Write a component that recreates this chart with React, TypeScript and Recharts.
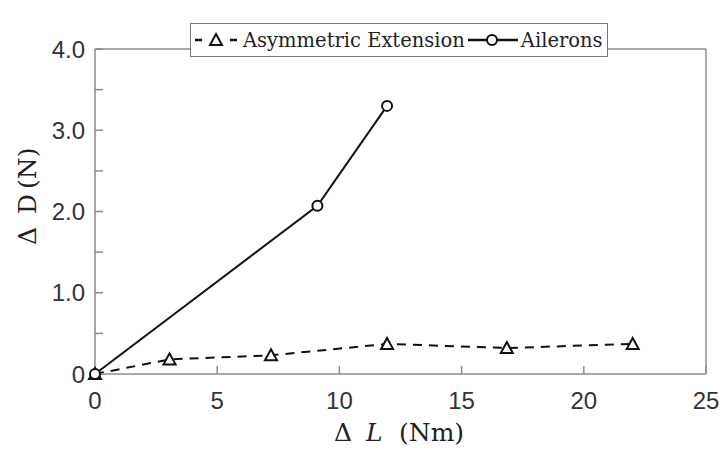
import { Legend, Line, LineChart, ReferenceLine, XAxis, YAxis } from 'recharts';

const extensionX = [0, 3.05, 7.2, 11.95, 16.85, 22];
const extensionY = [0, 0.18, 0.23, 0.37, 0.32, 0.37];
const aileronX = [0, 9.1, 11.95];
const aileronY = [0, 2.07, 3.3];
const xTicks = [0, 5, 10, 15, 20, 25];
const yTicks = [0, 0.5, 1, 1.5, 2, 2.5, 3, 3.5, 4];

const extension = extensionX.map((x, i) => ({ x, y: extensionY[i] }));
const ailerons = aileronX.map((x, i) => ({ x, y: aileronY[i] }));

const AXIS = '#8c8c8c';
const SERIF = '"DejaVu Serif", serif';
const SANS = '"Liberation Sans", Arial, sans-serif';

function Triangle({ cx, cy }: any) {
  if (cx == null || cy == null) return null;
  return (
    <path
      d={`M${cx},${cy - 6} L${cx + 6},${cy + 5} L${cx - 6},${cy + 5} Z`}
      fill="#fff"
      stroke="#111"
      strokeWidth={2}
    />
  );
}

function Circle({ cx, cy }: any) {
  if (cx == null || cy == null) return null;
  return <circle cx={cx} cy={cy} r={5} fill="#fff" stroke="#111" strokeWidth={2} />;
}

function LegendBox() {
  return (
    <div
      style={{
        display: 'flex',
        alignItems: 'center',
        boxSizing: 'border-box',
        border: '1.5px solid #777',
        background: '#fff',
        width: 418,
        height: 34,
        paddingLeft: 2,
        fontFamily: SERIF,
        fontSize: 19.5,
        color: '#222',
        whiteSpace: 'nowrap',
      }}
    >
      <svg width={48} height={20}>
        <line x1={2} y1={10} x2={9} y2={10} stroke="#111" strokeWidth={2.5} />
        <line x1={37} y1={10} x2={44} y2={10} stroke="#111" strokeWidth={2.5} />
        <Triangle cx={23} cy={10} />
      </svg>
      <span style={{ marginLeft: 2 }}>Asymmetric Extension</span>
      <svg width={52} height={20} style={{ marginLeft: 2 }}>
        <line x1={1} y1={10} x2={51} y2={10} stroke="#111" strokeWidth={2.5} />
        <Circle cx={25} cy={10} />
      </svg>
      <span style={{ marginLeft: 2 }}>Ailerons</span>
    </div>
  );
}

function XLabel() {
  return (
    <text y={441} fontFamily={SERIF} fontSize={25} fill="#222">
      <tspan x={334}>Δ</tspan>
      <tspan x={366} fontStyle="italic">L</tspan>
      <tspan x={399}>(Nm)</tspan>
    </text>
  );
}

function YLabel() {
  return (
    <text transform="translate(36,0) rotate(-90)" y={0} fontFamily={SERIF} fontSize={25} fill="#222">
      <tspan x={-245}>Δ</tspan>
      <tspan x={-214}>D</tspan>
      <tspan x={-189}>(N)</tspan>
    </text>
  );
}

export default function App() {
  return (
    <div style={{ position: 'absolute', left: 0, top: 0, width: 722, height: 450, background: '#fff' }}>
      <LineChart width={722} height={450} margin={{ top: 15, right: 16, left: 0, bottom: 0 }}>
        <XAxis
          type="number"
          dataKey="x"
          domain={[0, 25]}
          ticks={xTicks}
          height={76}
          stroke={AXIS}
          strokeWidth={1.5}
          tickSize={-8}
          tickMargin={26}
          tick={{ fill: '#333', fontFamily: SANS, fontSize: 24 }}
          label={<XLabel />}
        />
        <YAxis
          type="number"
          dataKey="y"
          domain={[0, 4]}
          ticks={yTicks}
          width={95}
          stroke={AXIS}
          strokeWidth={1.5}
          tickSize={-8}
          tickMargin={18}
          tick={{ fill: '#333', fontFamily: SANS, fontSize: 24 }}
          tickFormatter={(v: number) => (v === 0 ? '0' : Number.isInteger(v) ? v.toFixed(1) : '')}
          label={<YLabel />}
        />
        <ReferenceLine y={4} stroke={AXIS} strokeWidth={1.5} />
        <ReferenceLine x={25} stroke={AXIS} strokeWidth={1.5} />
        <Legend
          verticalAlign="top"
          align="left"
          wrapperStyle={{ top: 23, left: 190, width: 'auto' }}
          content={<LegendBox />}
        />
        <Line
          data={extension}
          dataKey="y"
          name="Asymmetric Extension"
          stroke="#111"
          strokeWidth={2}
          strokeDasharray="9 7"
          dot={<Triangle />}
          isAnimationActive={false}
        />
        <Line
          data={ailerons}
          dataKey="y"
          name="Ailerons"
          stroke="#111"
          strokeWidth={2}
          dot={<Circle />}
          isAnimationActive={false}
        />
      </LineChart>
    </div>
  );
}
